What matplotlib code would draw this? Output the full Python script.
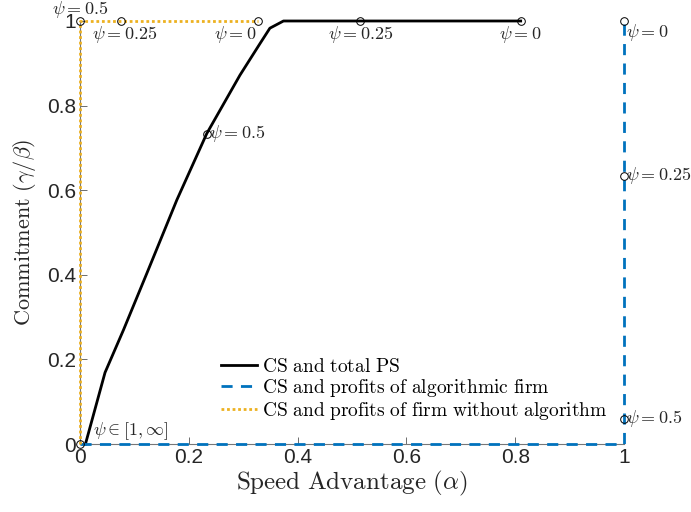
import matplotlib
matplotlib.use("Agg")
import matplotlib.pyplot as plt

plt.rcParams['mathtext.fontset'] = 'cm'
plt.rcParams['axes.unicode_minus'] = False

# CS and total PS
total_alpha = [0.01, 0.046, 0.08, 0.123, 0.178, 0.233, 0.294, 0.331, 0.349, 0.374, 0.81]
total_commit = [0.0, 0.169, 0.27, 0.404, 0.577, 0.734, 0.872, 0.947, 0.983, 1.0, 1.0]
total_mark_alpha = [0.233, 0.515, 0.81]
total_mark_commit = [0.734, 1.0, 1.0]

# CS and profits of algorithmic firm
algo_alpha = [0.0, 1.0, 1.0]
algo_commit = [0.0, 0.0, 1.0]
algo_mark_alpha = [1.0, 1.0, 1.0]
algo_mark_commit = [1.0, 0.634, 0.06]

# CS and profits of firm without algorithm
noalgo_alpha = [0.0, 0.0, 0.327]
noalgo_commit = [0.0, 1.0, 1.0]
noalgo_mark_alpha = [0.0, 0.075, 0.327]
noalgo_mark_commit = [1.0, 1.0, 1.0]

ticks = [0, 0.2, 0.4, 0.6, 0.8, 1]
tick_labels = ['0', '0.2', '0.4', '0.6', '0.8', '1']

fig = plt.figure(figsize=(6.91, 5.12), dpi=100)
ax = fig.add_axes([0.1158, 0.1328, 0.7873, 0.8262])

blue = '#0072BD'
orange = '#EDB120'

ax.plot(total_alpha, total_commit, color='black', lw=2, label=r'$\mathrm{CS\ and\ total\ PS}$',
        zorder=3, clip_on=False)
ax.plot(algo_alpha, algo_commit, color=blue, lw=2, ls=(0, (4, 3)),
        label=r'$\mathrm{CS\ and\ profits\ of\ algorithmic\ firm}$', zorder=3, clip_on=False)
ax.plot(noalgo_alpha, noalgo_commit, color=orange, lw=2, ls=(0, (1, 1)),
        label=r'$\mathrm{CS\ and\ profits\ of\ firm\ without\ algorithm}$', zorder=3, clip_on=False)

mk = dict(ls='none', marker='o', ms=5.5, mfc='none', mec='black', mew=0.7, zorder=4, clip_on=False)
ax.plot(total_mark_alpha, total_mark_commit, **mk)
ax.plot(algo_mark_alpha, algo_mark_commit, **mk)
ax.plot(noalgo_mark_alpha, noalgo_mark_commit, **mk)
ax.plot([0], [0], **mk)

fs = 13
txt = dict(fontsize=fs, color='#262626')
ax.text(0.0, 1.027, r'$\psi=0.5$', ha='center', va='center', **txt)
ax.text(0.022, 0.967, r'$\psi=0.25$', ha='left', va='center', **txt)
ax.text(0.325, 0.967, r'$\psi=0$', ha='right', va='center', **txt)
ax.text(0.515, 0.967, r'$\psi=0.25$', ha='center', va='center', **txt)
ax.text(0.81, 0.967, r'$\psi=0$', ha='center', va='center', **txt)
ax.text(0.237, 0.734, r'$\psi=0.5$', ha='left', va='center', **txt)
ax.text(1.004, 0.972, r'$\psi=0$', ha='left', va='center', **txt)
ax.text(1.004, 0.634, r'$\psi=0.25$', ha='left', va='center', **txt)
ax.text(1.004, 0.06, r'$\psi=0.5$', ha='left', va='center', **txt)
ax.text(0.024, 0.03, r'$\psi\in[1,\infty]$', ha='left', va='center', **txt)

ax.set_xlim(0, 1)
ax.set_ylim(0, 1)
ax.set_xticks(ticks)
ax.set_xticklabels(tick_labels, family='Liberation Sans', fontsize=15)
ax.set_yticks(ticks)
ax.set_yticklabels(tick_labels, family='Liberation Sans', fontsize=15)
ax.tick_params(direction='in', length=5, width=0.6, color='#555555', pad=3, labelcolor='#262626')

for side in ['top', 'right']:
    ax.spines[side].set_visible(False)
for side in ['left', 'bottom']:
    ax.spines[side].set_color('#777777')
    ax.spines[side].set_linewidth(0.8)

ax.set_xlabel(r'$\mathrm{Speed\ Advantage\ }(\alpha)$', fontsize=18, color='#262626', labelpad=1)
ax.set_ylabel(r'$\mathrm{Commitment\ }(\gamma/\beta)$', fontsize=16, color='#262626', labelpad=6)

leg = ax.legend(loc='upper left', bbox_to_anchor=(0.245, 0.225), frameon=False, fontsize=14,
                handlelength=1.85, handletextpad=0.25, labelspacing=0.05, borderaxespad=0)

fig.savefig('out.png', dpi=100)
